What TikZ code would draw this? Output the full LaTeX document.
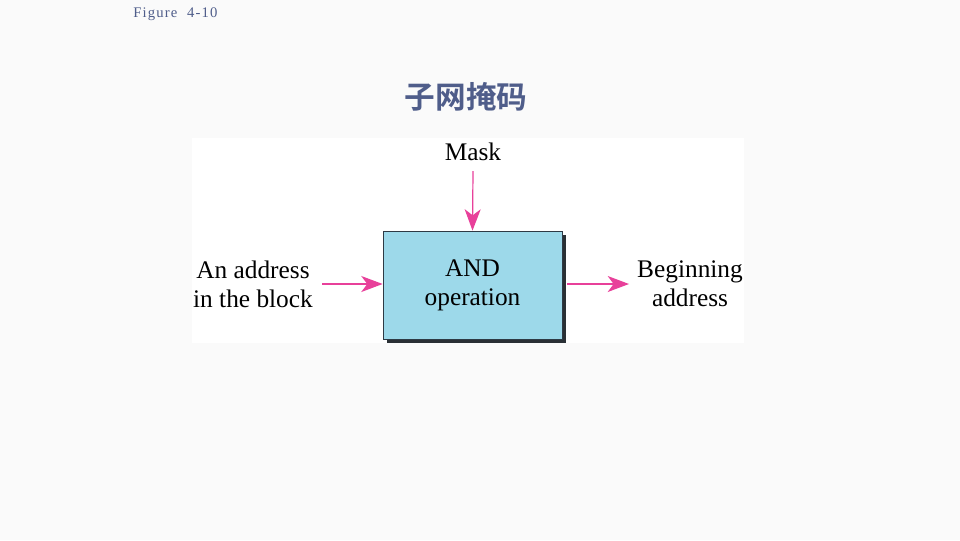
\documentclass[tikz,border=0pt]{standalone}
\usepackage{fontspec}
\setmainfont{Liberation Serif}
\newfontfamily\cjkfont{Noto Sans CJK SC}[BoldFont={* Bold}]
\newfontfamily\figfont{Liberation Serif}[LetterSpace=8]
\usetikzlibrary{arrows.meta}
\definecolor{bgc}{HTML}{FAFAFA}
\definecolor{titlec}{HTML}{4F5D8A}
\definecolor{arrowc}{HTML}{E8409A}
\definecolor{boxc}{HTML}{9DD9EA}
\definecolor{edgec}{HTML}{2E3A45}
\definecolor{shadowc}{HTML}{2A3035}
\tikzset{
  lbl/.style={font=\fontsize{19}{21.75}\selectfont, align=center, inner sep=0pt},
  flow/.style={draw=arrowc, line width=0.9pt, -{Stealth[length=16pt, width=12pt, inset=4.5pt]}},
  opbox/.style={draw=edgec, line width=0.6pt, fill=boxc, minimum width=134.25pt, minimum height=81pt, inner sep=0pt, align=center, font=\fontsize{19}{21.75}\selectfont}
}
\begin{document}
\begin{tikzpicture}[x=0.75pt, y=-0.75pt]
\fill[bgc] (0,0) rectangle (960,540);
\useasboundingbox (0,0) rectangle (960,540);
\fill[white] (192,138) rectangle (744,343);
\node[font=\figfont\fontsize{11}{13}\selectfont, text=titlec, anchor=west, inner sep=0pt] (fig) at (133,14) {Figure\ \ 4-10};
\node[font=\cjkfont\bfseries\fontsize{23}{28}\selectfont, text=titlec, inner sep=0pt] (title) at (466,97) {子网掩码};
\fill[shadowc] (387,235) rectangle (566,343);
\node[opbox] (op) at (472.5,285) {AND\\operation};
\node[lbl] (mask) at (473,152) {Mask};
\node[lbl] (addr) at (253,284) {An address\\in the block};
\node[lbl] (begin) at (690,284) {Beginning\\address};
\coordinate (m0) at (473,171);
\coordinate (a0) at (322,284);
\coordinate (b1) at (629,284);
\draw[flow] (m0) -- (op.north);
\draw[flow] (a0) -- (a0 -| op.west);
\draw[flow] (a0 -| op.east) ++(5,0) coordinate (b0) -- (b1);
\end{tikzpicture}
\end{document}
